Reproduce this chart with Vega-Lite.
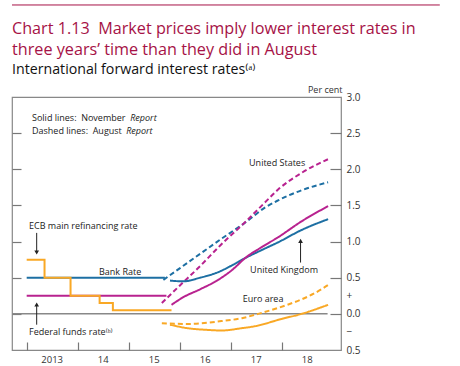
{
  "$schema": "https://vega.github.io/schema/vega-lite/v6.json",
  "width": 329,
  "height": 253,
  "autosize": {"type": "none"},
  "padding": {"left": 12, "top": 97, "right": 119, "bottom": 16},
  "background": "white",
  "title": {
    "text": ["Chart 1.13\u00a0 Market prices imply lower interest rates in", "three years’ time than they did in August"],
    "subtitle": "International forward interest rates⁽ᵃ⁾",
    "anchor": "start",
    "frame": "group",
    "orient": "top",
    "font": "Open Sans",
    "fontSize": 16.2,
    "fontWeight": "normal",
    "color": "#a61246",
    "lineHeight": 21,
    "subtitleFont": "Open Sans",
    "subtitleFontSize": 14.2,
    "subtitleColor": "#111111",
    "subtitlePadding": 5,
    "offset": -72.5
  },
  "config": {
    "view": {"stroke": "#888888", "strokeWidth": 1.2},
    "font": "Open Sans"
  },
  "datasets": {
    "hist": [
      {"series": "UK_hist", "region": "UK", "year": 2013.0, "value": 0.5},
      {"series": "UK_hist", "region": "UK", "year": 2015.71, "value": 0.5},
      {"series": "US_hist", "region": "US", "year": 2013.0, "value": 0.25},
      {"series": "US_hist", "region": "US", "year": 2015.74, "value": 0.25},
      {"series": "EA_hist", "region": "EA", "year": 2013.0, "value": 0.75},
      {"series": "EA_hist", "region": "EA", "year": 2013.35, "value": 0.5},
      {"series": "EA_hist", "region": "EA", "year": 2013.86, "value": 0.25},
      {"series": "EA_hist", "region": "EA", "year": 2014.43, "value": 0.15},
      {"series": "EA_hist", "region": "EA", "year": 2014.69, "value": 0.05},
      {"series": "EA_hist", "region": "EA", "year": 2015.84, "value": 0.05}
    ],
    "fwd": [
      {"series": "UK_aug", "region": "UK", "report": "Aug", "year": 2015.68, "value": 0.47},
      {"series": "UK_aug", "region": "UK", "report": "Aug", "year": 2016.0, "value": 0.63},
      {"series": "UK_aug", "region": "UK", "report": "Aug", "year": 2016.4, "value": 0.83},
      {"series": "UK_aug", "region": "UK", "report": "Aug", "year": 2016.8, "value": 1.03},
      {"series": "UK_aug", "region": "UK", "report": "Aug", "year": 2017.3, "value": 1.27},
      {"series": "UK_aug", "region": "UK", "report": "Aug", "year": 2017.67, "value": 1.47},
      {"series": "UK_aug", "region": "UK", "report": "Aug", "year": 2017.93, "value": 1.57},
      {"series": "UK_aug", "region": "UK", "report": "Aug", "year": 2018.39, "value": 1.71},
      {"series": "UK_aug", "region": "UK", "report": "Aug", "year": 2018.91, "value": 1.82},
      {"series": "US_aug", "region": "US", "report": "Aug", "year": 2015.65, "value": 0.15},
      {"series": "US_aug", "region": "US", "report": "Aug", "year": 2016.0, "value": 0.39},
      {"series": "US_aug", "region": "US", "report": "Aug", "year": 2016.4, "value": 0.66},
      {"series": "US_aug", "region": "US", "report": "Aug", "year": 2016.8, "value": 0.95},
      {"series": "US_aug", "region": "US", "report": "Aug", "year": 2017.3, "value": 1.28},
      {"series": "US_aug", "region": "US", "report": "Aug", "year": 2017.67, "value": 1.54},
      {"series": "US_aug", "region": "US", "report": "Aug", "year": 2017.93, "value": 1.72},
      {"series": "US_aug", "region": "US", "report": "Aug", "year": 2018.39, "value": 1.95},
      {"series": "US_aug", "region": "US", "report": "Aug", "year": 2018.91, "value": 2.14},
      {"series": "EA_aug", "region": "EA", "report": "Aug", "year": 2015.65, "value": -0.13},
      {"series": "EA_aug", "region": "EA", "report": "Aug", "year": 2016.17, "value": -0.14},
      {"series": "EA_aug", "region": "EA", "report": "Aug", "year": 2016.82, "value": -0.1},
      {"series": "EA_aug", "region": "EA", "report": "Aug", "year": 2017.22, "value": -0.06},
      {"series": "EA_aug", "region": "EA", "report": "Aug", "year": 2017.54, "value": 0.0},
      {"series": "EA_aug", "region": "EA", "report": "Aug", "year": 2018.13, "value": 0.13},
      {"series": "EA_aug", "region": "EA", "report": "Aug", "year": 2018.39, "value": 0.2},
      {"series": "EA_aug", "region": "EA", "report": "Aug", "year": 2018.78, "value": 0.34},
      {"series": "EA_aug", "region": "EA", "report": "Aug", "year": 2018.91, "value": 0.4},
      {"series": "UK_nov", "region": "UK", "report": "Nov", "year": 2015.81, "value": 0.46},
      {"series": "UK_nov", "region": "UK", "report": "Nov", "year": 2016.07, "value": 0.45},
      {"series": "UK_nov", "region": "UK", "report": "Nov", "year": 2016.4, "value": 0.5},
      {"series": "UK_nov", "region": "UK", "report": "Nov", "year": 2016.73, "value": 0.57},
      {"series": "UK_nov", "region": "UK", "report": "Nov", "year": 2017.05, "value": 0.68},
      {"series": "UK_nov", "region": "UK", "report": "Nov", "year": 2017.28, "value": 0.77},
      {"series": "UK_nov", "region": "UK", "report": "Nov", "year": 2017.6, "value": 0.88},
      {"series": "UK_nov", "region": "UK", "report": "Nov", "year": 2017.93, "value": 0.99},
      {"series": "UK_nov", "region": "UK", "report": "Nov", "year": 2018.39, "value": 1.16},
      {"series": "UK_nov", "region": "UK", "report": "Nov", "year": 2018.91, "value": 1.31},
      {"series": "US_nov", "region": "US", "report": "Nov", "year": 2015.84, "value": 0.125},
      {"series": "US_nov", "region": "US", "report": "Nov", "year": 2016.07, "value": 0.23},
      {"series": "US_nov", "region": "US", "report": "Nov", "year": 2016.4, "value": 0.34},
      {"series": "US_nov", "region": "US", "report": "Nov", "year": 2016.73, "value": 0.46},
      {"series": "US_nov", "region": "US", "report": "Nov", "year": 2017.05, "value": 0.62},
      {"series": "US_nov", "region": "US", "report": "Nov", "year": 2017.28, "value": 0.77},
      {"series": "US_nov", "region": "US", "report": "Nov", "year": 2017.6, "value": 0.92},
      {"series": "US_nov", "region": "US", "report": "Nov", "year": 2017.93, "value": 1.06},
      {"series": "US_nov", "region": "US", "report": "Nov", "year": 2018.39, "value": 1.28},
      {"series": "US_nov", "region": "US", "report": "Nov", "year": 2018.91, "value": 1.49},
      {"series": "EA_nov", "region": "EA", "report": "Nov", "year": 2015.81, "value": -0.15},
      {"series": "EA_nov", "region": "EA", "report": "Nov", "year": 2016.17, "value": -0.2},
      {"series": "EA_nov", "region": "EA", "report": "Nov", "year": 2016.5, "value": -0.22},
      {"series": "EA_nov", "region": "EA", "report": "Nov", "year": 2016.82, "value": -0.23},
      {"series": "EA_nov", "region": "EA", "report": "Nov", "year": 2017.2, "value": -0.2},
      {"series": "EA_nov", "region": "EA", "report": "Nov", "year": 2017.48, "value": -0.17},
      {"series": "EA_nov", "region": "EA", "report": "Nov", "year": 2018.0, "value": -0.07},
      {"series": "EA_nov", "region": "EA", "report": "Nov", "year": 2018.39, "value": 0.0},
      {"series": "EA_nov", "region": "EA", "report": "Nov", "year": 2018.91, "value": 0.125}
    ],
    "notes": [
      {"x": 2013.104, "y": 2.67, "text": "Solid lines:\u00a0 November"},
      {"x": 2013.104, "y": 2.49, "text": "Dashed lines:\u00a0 August"},
      {"x": 2013.045, "y": 1.17, "text": "ECB main refinancing rate"},
      {"x": 2014.418, "y": 0.54, "text": "Bank Rate"},
      {"x": 2013.045, "y": -0.29, "text": "Federal funds rate⁽ᵇ⁾"},
      {"x": 2017.36, "y": 2.04, "text": "United States"},
      {"x": 2017.38, "y": 0.57, "text": "United Kingdom"},
      {"x": 2017.236, "y": 0.17, "text": "Euro area"}
    ],
    "italic": [
      {"x": 2015.03, "y": 2.67, "text": "Report"},
      {"x": 2014.95, "y": 2.49, "text": "Report"}
    ],
    "arrows": [
      {"x": 2013.196, "y1": 1.12, "y2": 0.85, "dir": "down"},
      {"x": 2013.196, "y1": -0.15, "y2": 0.13, "dir": "up"},
      {"x": 2018.37, "y1": 0.71, "y2": 1.01, "dir": "up"}
    ],
    "topline": [
      {"x": 2012.712, "x2": 2021.1, "y": 4.273}
    ],
    "zeroline": [
      {"x": 2012.712, "x2": 2018.9, "y": 0}
    ]
  },
  "resolve": {"axis": {"y": "independent"}},
  "layer": [
    {
      "data": {"name": "zeroline"},
      "mark": {"type": "rule", "color": "#888888", "strokeWidth": 1.5},
      "encoding": {
        "x": {"field": "x", "type": "quantitative",
          "scale": {"domain": [2012.712, 2019.163], "nice": false, "zero": false},
          "axis": {
            "orient": "bottom", "offset": -8, "tickSize": 8, "domain": false, "grid": false,
            "values": [2013, 2014, 2015, 2016, 2017, 2018], "format": "d",
            "labelExpr": "datum.value == 2013 ? '2013' : substring(datum.label, 2, 4)",
            "labelOffset": 25, "labelPadding": 4, "labelFontSize": 9.5, "labelColor": "#333333",
            "labelFont": "Open Sans", "labelFlush": false, "labelOverlap": false, "labelBound": false,
            "tickColor": "#777777", "tickWidth": 1.2, "title": null
          }},
        "x2": {"field": "x2"},
        "y": {"field": "y", "type": "quantitative",
          "scale": {"domain": [-0.5, 3], "nice": false, "zero": false},
          "axis": {
            "orient": "left", "offset": -9, "tickSize": 9, "labels": false, "domain": false, "grid": false,
            "values": [0, 0.5, 1, 1.5, 2, 2.5], "tickColor": "#777777", "tickWidth": 1.2, "title": null
          }}
      }
    },
    {
      "data": {"name": "hist"},
      "mark": {"type": "line", "interpolate": "step-after", "strokeWidth": 2},
      "encoding": {
        "x": {"field": "year", "type": "quantitative", "scale": {"domain": [2012.712, 2019.163], "nice": false, "zero": false},
          "axis": {
            "orient": "bottom", "offset": -8, "tickSize": 8, "domain": false, "grid": false,
            "values": [2013, 2014, 2015, 2016, 2017, 2018], "format": "d",
            "labelExpr": "datum.value == 2013 ? '2013' : substring(datum.label, 2, 4)",
            "labelOffset": 25, "labelPadding": 4, "labelFontSize": 9.5, "labelColor": "#333333",
            "labelFont": "Open Sans", "labelFlush": false, "labelOverlap": false, "labelBound": false,
            "tickColor": "#777777", "tickWidth": 1.2, "title": null
          }},
        "y": {"field": "value", "type": "quantitative",
          "scale": {"domain": [-0.5, 3], "nice": false, "zero": false},
          "axis": {
            "orient": "right", "offset": -11, "tickSize": 11, "domain": false, "grid": false,
            "values": [-0.5, -0.25, 0, 0.25, 0.5, 1, 1.5, 2, 2.5, 3],
            "labelExpr": "datum.value == 0.25 ? '+' : datum.value == -0.25 ? '−' : format(abs(datum.value), '.1f')",
            "labelAlign": "left", "labelBaseline": "middle", "labelPadding": 5, "labelFontSize": 10, "labelColor": "#333333",
            "labelFont": "Open Sans", "labelFlush": false, "labelOverlap": false, "labelBound": false,
            "tickColor": "#777777", "tickWidth": 1.2,
            "tickOpacity": {"condition": {"test": "abs(datum.value) == 0.25 || datum.value == 3 || datum.value == -0.5", "value": 0}, "value": 1},
            "title": "Per cent", "titleAngle": 0, "titleAlign": "right", "titleBaseline": "alphabetic",
            "titleX": 12, "titleY": -5, "titleFontSize": 9, "titleFontWeight": "normal", "titleColor": "#333333",
            "titleFont": "Open Sans"
          }},
        "color": {"field": "region", "type": "nominal", "scale": {"domain": ["UK", "US", "EA"], "range": ["#1d6fa3", "#b8228f", "#f9a825"]}, "legend": null},
        "detail": {"field": "series"}
      }
    },
    {
      "data": {"name": "fwd"},
      "mark": {"type": "line", "interpolate": "monotone", "strokeWidth": 2},
      "encoding": {
        "x": {"field": "year", "type": "quantitative", "scale": {"domain": [2012.712, 2019.163], "nice": false, "zero": false},
          "axis": {
            "orient": "bottom", "offset": -8, "tickSize": 8, "domain": false, "grid": false,
            "values": [2013, 2014, 2015, 2016, 2017, 2018], "format": "d",
            "labelExpr": "datum.value == 2013 ? '2013' : substring(datum.label, 2, 4)",
            "labelOffset": 25, "labelPadding": 4, "labelFontSize": 9.5, "labelColor": "#333333",
            "labelFont": "Open Sans", "labelFlush": false, "labelOverlap": false, "labelBound": false,
            "tickColor": "#777777", "tickWidth": 1.2, "title": null
          }},
        "y": {"field": "value", "type": "quantitative", "scale": {"domain": [-0.5, 3], "nice": false, "zero": false}, "axis": null},
        "color": {"field": "region", "type": "nominal", "scale": {"domain": ["UK", "US", "EA"], "range": ["#1d6fa3", "#b8228f", "#f9a825"]}, "legend": null},
        "strokeDash": {"field": "report", "type": "nominal", "scale": {"domain": ["Nov", "Aug"], "range": [[1, 0], [5, 3]]}, "legend": null},
        "detail": {"field": "series"}
      }
    },
    {
      "data": {"name": "notes"},
      "mark": {"type": "text", "align": "left", "baseline": "alphabetic", "font": "Open Sans", "fontSize": 9, "color": "#222222"},
      "encoding": {
        "x": {"field": "x", "type": "quantitative", "scale": {"domain": [2012.712, 2019.163], "nice": false, "zero": false},
          "axis": {
            "orient": "bottom", "offset": -8, "tickSize": 8, "domain": false, "grid": false,
            "values": [2013, 2014, 2015, 2016, 2017, 2018], "format": "d",
            "labelExpr": "datum.value == 2013 ? '2013' : substring(datum.label, 2, 4)",
            "labelOffset": 25, "labelPadding": 4, "labelFontSize": 9.5, "labelColor": "#333333",
            "labelFont": "Open Sans", "labelFlush": false, "labelOverlap": false, "labelBound": false,
            "tickColor": "#777777", "tickWidth": 1.2, "title": null
          }},
        "y": {"field": "y", "type": "quantitative", "scale": {"domain": [-0.5, 3], "nice": false, "zero": false}, "axis": null},
        "text": {"field": "text"}
      }
    },
    {
      "data": {"name": "italic"},
      "mark": {"type": "text", "align": "left", "baseline": "alphabetic", "font": "Open Sans", "fontSize": 9, "fontStyle": "italic", "color": "#222222"},
      "encoding": {
        "x": {"field": "x", "type": "quantitative", "scale": {"domain": [2012.712, 2019.163], "nice": false, "zero": false},
          "axis": {
            "orient": "bottom", "offset": -8, "tickSize": 8, "domain": false, "grid": false,
            "values": [2013, 2014, 2015, 2016, 2017, 2018], "format": "d",
            "labelExpr": "datum.value == 2013 ? '2013' : substring(datum.label, 2, 4)",
            "labelOffset": 25, "labelPadding": 4, "labelFontSize": 9.5, "labelColor": "#333333",
            "labelFont": "Open Sans", "labelFlush": false, "labelOverlap": false, "labelBound": false,
            "tickColor": "#777777", "tickWidth": 1.2, "title": null
          }},
        "y": {"field": "y", "type": "quantitative", "scale": {"domain": [-0.5, 3], "nice": false, "zero": false}, "axis": null},
        "text": {"field": "text"}
      }
    },
    {
      "data": {"name": "arrows"},
      "mark": {"type": "rule", "color": "#222222", "strokeWidth": 1},
      "encoding": {
        "x": {"field": "x", "type": "quantitative", "scale": {"domain": [2012.712, 2019.163], "nice": false, "zero": false},
          "axis": {
            "orient": "bottom", "offset": -8, "tickSize": 8, "domain": false, "grid": false,
            "values": [2013, 2014, 2015, 2016, 2017, 2018], "format": "d",
            "labelExpr": "datum.value == 2013 ? '2013' : substring(datum.label, 2, 4)",
            "labelOffset": 25, "labelPadding": 4, "labelFontSize": 9.5, "labelColor": "#333333",
            "labelFont": "Open Sans", "labelFlush": false, "labelOverlap": false, "labelBound": false,
            "tickColor": "#777777", "tickWidth": 1.2, "title": null
          }},
        "y": {"field": "y1", "type": "quantitative", "scale": {"domain": [-0.5, 3], "nice": false, "zero": false}, "axis": null},
        "y2": {"field": "y2"}
      }
    },
    {
      "data": {"name": "arrows"},
      "mark": {"type": "point", "filled": true, "size": 22, "color": "#222222", "opacity": 1},
      "encoding": {
        "x": {"field": "x", "type": "quantitative", "scale": {"domain": [2012.712, 2019.163], "nice": false, "zero": false},
          "axis": {
            "orient": "bottom", "offset": -8, "tickSize": 8, "domain": false, "grid": false,
            "values": [2013, 2014, 2015, 2016, 2017, 2018], "format": "d",
            "labelExpr": "datum.value == 2013 ? '2013' : substring(datum.label, 2, 4)",
            "labelOffset": 25, "labelPadding": 4, "labelFontSize": 9.5, "labelColor": "#333333",
            "labelFont": "Open Sans", "labelFlush": false, "labelOverlap": false, "labelBound": false,
            "tickColor": "#777777", "tickWidth": 1.2, "title": null
          }},
        "y": {"field": "y2", "type": "quantitative", "scale": {"domain": [-0.5, 3], "nice": false, "zero": false}, "axis": null},
        "shape": {"field": "dir", "type": "nominal", "scale": {"domain": ["down", "up"], "range": ["triangle-down", "triangle-up"]}, "legend": null}
      }
    },
    {
      "data": {"name": "topline"},
      "mark": {"type": "rule", "color": "#a61246", "strokeWidth": 1, "clip": false},
      "encoding": {
        "x": {"field": "x", "type": "quantitative", "scale": {"domain": [2012.712, 2019.163], "nice": false, "zero": false},
          "axis": {
            "orient": "bottom", "offset": -8, "tickSize": 8, "domain": false, "grid": false,
            "values": [2013, 2014, 2015, 2016, 2017, 2018], "format": "d",
            "labelExpr": "datum.value == 2013 ? '2013' : substring(datum.label, 2, 4)",
            "labelOffset": 25, "labelPadding": 4, "labelFontSize": 9.5, "labelColor": "#333333",
            "labelFont": "Open Sans", "labelFlush": false, "labelOverlap": false, "labelBound": false,
            "tickColor": "#777777", "tickWidth": 1.2, "title": null
          }},
        "x2": {"field": "x2"},
        "y": {"field": "y", "type": "quantitative", "scale": {"domain": [-0.5, 3], "nice": false, "zero": false}, "axis": null}
      }
    }
  ]
}
